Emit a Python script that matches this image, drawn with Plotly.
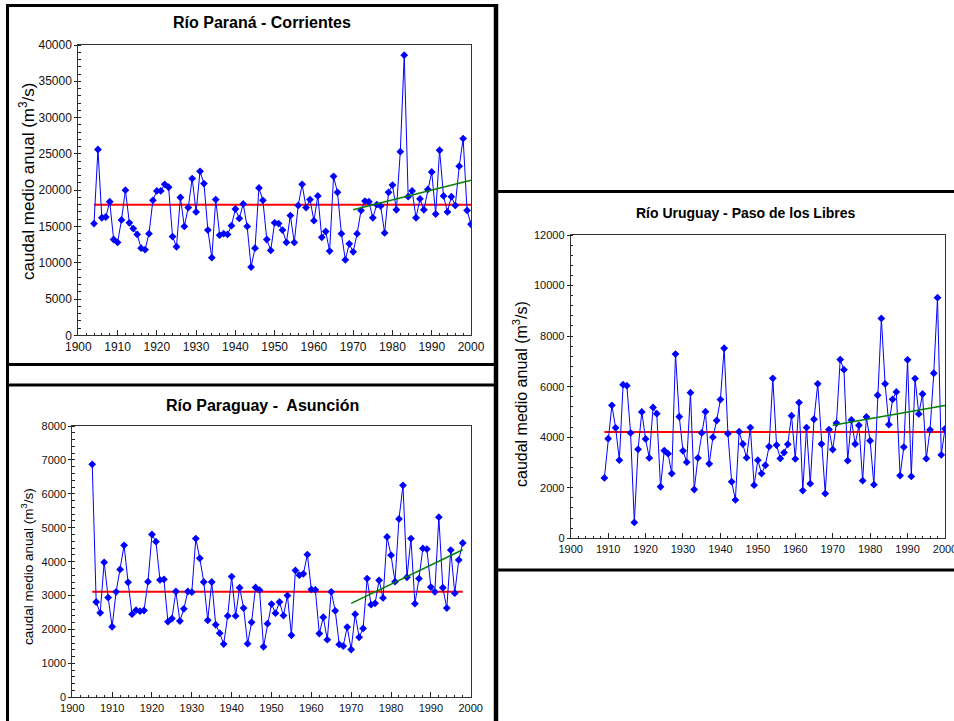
import plotly.graph_objects as go

W, H = 954, 721

# ---------------- data ----------------
years_parana = list(range(1904, 2001))
parana = [15400, 25600, 16200, 16300, 18400, 13200, 12800, 15900, 20000, 15500,
          14700, 13900, 12000, 11800, 14000, 18600, 19900, 19900, 20800, 20400,
          13600, 12200, 19000, 15000, 17600, 21600, 17000, 22600, 20900, 14500,
          10700, 18700, 13800, 14000, 13900, 15100, 17400, 16100, 18100, 15000,
          9400, 12000, 20300, 18600, 13200, 11700, 15500, 15400, 14500, 12800,
          16500, 12800, 17900, 20800, 17600, 18700, 15800, 19200, 13500, 14300,
          11600, 21900, 19700, 14000, 10400, 12600, 11500, 14000, 17200, 18500,
          18400, 16200, 18000, 17800, 14100, 19700, 20700, 17300, 25300, 38600,
          19100, 19900, 16200, 18800, 17300, 20100, 22500, 16700, 25500, 19200,
          17000, 19100, 17900, 23300, 27100, 17200, 15300]
parana_mean_x = [1904, 2000]
parana_mean_y = [18000, 18000]
parana_trend_x = [1970, 2000]
parana_trend_y = [17300, 21350]

years_paraguay = list(range(1905, 1999))
paraguay = [6870, 2810, 2490, 3980, 2940, 2080, 3110, 3770, 4480, 3390,
            2450, 2570, 2540, 2560, 3410, 4800, 4590, 3460, 3480, 2230,
            2320, 3120, 2250, 2610, 3120, 3100, 4680, 4100, 3400, 2270,
            3400, 2140, 1890, 1570, 2400, 3560, 2400, 3230, 2630, 1580,
            2210, 3240, 3160, 1490, 2170, 2750, 2480, 2810, 2410, 3000,
            1830, 3740, 3600, 3640, 4210, 3180, 3170, 1880, 2360, 1700,
            3110, 2550, 1560, 1510, 2070, 1410, 2450, 1770, 2030, 3500,
            2730, 2770, 3450, 2930, 4730, 4190, 3410, 5260, 6250, 3540,
            4680, 2760, 3500, 4390, 4370, 3250, 3110, 5310, 3230, 2630,
            4340, 3070, 4050, 4550]
paraguay_mean_x = [1905, 1998]
paraguay_mean_y = [3110, 3110]
paraguay_trend_x = [1970, 1998]
paraguay_trend_y = [2770, 4350]

years_uruguay = list(range(1909, 2001))
uruguay = [2390, 3940, 5260, 4370, 3090, 6080, 6040, 4170, 630, 3520,
           5000, 3930, 3180, 5180, 4930, 2040, 3470, 3350, 2560, 7290,
           4810, 3460, 3010, 5760, 1930, 3180, 4170, 5010, 2950, 4000,
           4660, 5490, 7520, 4140, 2240, 1520, 4220, 3730, 3190, 4380,
           2100, 3090, 2560, 2890, 3630, 6330, 3690, 3160, 3390, 3720,
           4850, 3140, 5370, 1890, 4380, 2160, 4710, 6110, 3730, 1770,
           4300, 3510, 4560, 7070, 6670, 3070, 4680, 3730, 4470, 2280,
           4800, 3860, 2120, 5660, 8700, 6110, 4500, 5500, 5790, 2480,
           3610, 7060, 2450, 6320, 4920, 5710, 3150, 4290, 6530, 9520,
           3300, 4330]
uruguay_mean_x = [1909, 2000]
uruguay_mean_y = [4210, 4210]
uruguay_trend_x = [1970, 2000]
uruguay_trend_y = [4470, 5250]

titles = ["Río Paraná - Corrientes", "Río Paraguay -\u00a0 Asunción", "Río Uruguay - Paso de los Libres"]
ylabel = "caudal medio anual (m<sup>3</sup>/s)"

# ---------------- helpers ----------------
def fx(px):
    return px / W

def fy(py):
    return 1 - py / H

FONT = "Liberation Sans, Arial, sans-serif"
BLUE = "#0000ff"
RED = "#ff0000"
GREEN = "#008000"

fig = go.Figure()

panels = [
    dict(x=years_parana, y=parana, mx=parana_mean_x, my=parana_mean_y,
         tx=parana_trend_x, ty=parana_trend_y, ax="x", ay="y"),
    dict(x=years_paraguay, y=paraguay, mx=paraguay_mean_x, my=paraguay_mean_y,
         tx=paraguay_trend_x, ty=paraguay_trend_y, ax="x2", ay="y2"),
    dict(x=years_uruguay, y=uruguay, mx=uruguay_mean_x, my=uruguay_mean_y,
         tx=uruguay_trend_x, ty=uruguay_trend_y, ax="x3", ay="y3"),
]

for p in panels:
    fig.add_trace(go.Scatter(x=p["mx"], y=p["my"], mode="lines",
                             line=dict(color=RED, width=2), xaxis=p["ax"], yaxis=p["ay"],
                             showlegend=False, hoverinfo="skip"))
    fig.add_trace(go.Scatter(x=p["x"], y=p["y"], mode="lines+markers",
                             line=dict(color=BLUE, width=1),
                             marker=dict(symbol="diamond", size=6, color=BLUE),
                             xaxis=p["ax"], yaxis=p["ay"], showlegend=False))
    fig.add_trace(go.Scatter(x=p["tx"], y=p["ty"], mode="lines",
                             line=dict(color=GREEN, width=1.5), xaxis=p["ax"], yaxis=p["ay"],
                             showlegend=False, hoverinfo="skip"))

# plot areas in pixels: (left, right, top, bottom)
areas = [
    (78.3, 471.0, 45.0, 335.3),
    (72.3, 470.7, 426.0, 697.3),
    (570.7, 945.0, 235.0, 538.3),
]
yranges = [(0, 40000, 5000, 1000), (0, 8000, 1000, 200), (0, 12000, 2000, 400)]
tick_sizes = [12, 11, 11]

layout_axes = {}
for i, ((l, r, t, b), (y0, y1, dt, mdt), ts) in enumerate(zip(areas, yranges, tick_sizes)):
    sfx = "" if i == 0 else str(i + 1)
    layout_axes["xaxis" + sfx] = dict(
        domain=[fx(l), fx(r)], range=[1900, 2000], anchor="y" + sfx,
        dtick=10, tick0=1900, ticks="inside", ticklen=5, tickcolor="#222",
        minor=dict(dtick=2, ticks="inside", ticklen=2.5, tickcolor="#222"),
        showgrid=False, zeroline=False, showline=True, linecolor="#333", linewidth=1,
        mirror=True, automargin=False, tickformat="d", ticklabeloverflow="allow",
        tickfont=dict(family=FONT, size=ts, color="#111"),
    )
    layout_axes["yaxis" + sfx] = dict(
        domain=[fy(b), fy(t)], range=[y0, y1], anchor="x" + sfx,
        dtick=dt, tick0=0, ticks="outside", ticklen=3, tickcolor="#222",
        minor=dict(dtick=mdt, ticks="inside", ticklen=2.5, tickcolor="#222"),
        showgrid=False, zeroline=False, showline=True, linecolor="#333", linewidth=1,
        mirror=True, automargin=False, tickformat="d", ticklabeloverflow="allow",
        tickfont=dict(family=FONT, size=ts, color="#111"),
    )

annotations = [
    dict(text="<b>%s</b>" % titles[0], x=fx(262), y=fy(23), font=dict(size=16)),
    dict(text="<b>%s</b>" % titles[1], x=fx(262), y=fy(405), font=dict(size=16)),
    dict(text="<b>%s</b>" % titles[2], x=fx(746), y=fy(213), font=dict(size=14)),
    dict(text=ylabel, x=fx(27), y=fy(181), textangle=-90, font=dict(size=17)),
    dict(text=ylabel, x=fx(27), y=fy(567), textangle=-90, font=dict(size=13.5)),
    dict(text=ylabel, x=fx(520), y=fy(394), textangle=-90, font=dict(size=16)),
]
for a in annotations:
    a.update(xref="paper", yref="paper", showarrow=False, xanchor="center", yanchor="middle")
    a["font"].update(family=FONT, color="#000")

def line(x0, y0, x1, y1, w=3):
    return dict(type="line", xref="paper", yref="paper",
                x0=fx(x0), y0=fy(y0), x1=fx(x1), y1=fy(y1),
                line=dict(color="#000", width=w))

shapes = [
    # box A
    line(6, 5.5, 496, 5.5),
    line(7.5, 4, 7.5, 721),
    line(6, 364.5, 496, 364.5),
    # top of box B
    line(6, 385, 496, 385),
    # shared vertical divider
    line(496, 4, 496, 721, w=4.5),
    # box C
    line(494, 191.5, 954, 191.5),
    line(494, 570, 954, 570),
]

fig.update_layout(
    width=W, height=H, margin=dict(l=0, r=0, t=0, b=0, autoexpand=False),
    paper_bgcolor="white", plot_bgcolor="white",
    font=dict(family=FONT, color="#000"),
    annotations=annotations, shapes=shapes, showlegend=False,
    **layout_axes,
)

fig.write_html("out.html", config={"displayModeBar": False},
               post_script="document.body.style.margin='0';")
